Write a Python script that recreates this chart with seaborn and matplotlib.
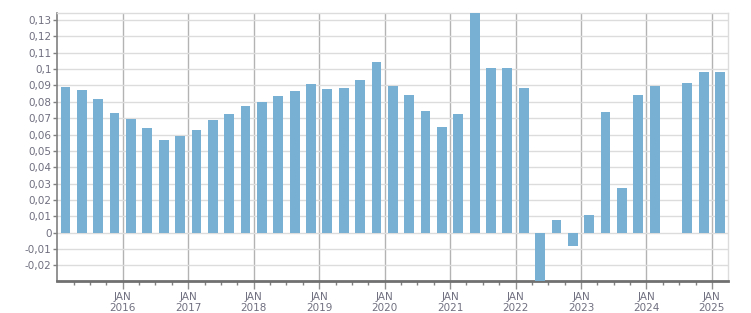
import numpy as np
import pandas as pd
import matplotlib
matplotlib.use("Agg")
import matplotlib.pyplot as plt
import seaborn as sns
from matplotlib.ticker import FixedLocator, FuncFormatter

quarters = [
    "2015Q1", "2015Q2", "2015Q3", "2015Q4",
    "2016Q1", "2016Q2", "2016Q3", "2016Q4",
    "2017Q1", "2017Q2", "2017Q3", "2017Q4",
    "2018Q1", "2018Q2", "2018Q3", "2018Q4",
    "2019Q1", "2019Q2", "2019Q3", "2019Q4",
    "2020Q1", "2020Q2", "2020Q3", "2020Q4",
    "2021Q1", "2021Q2", "2021Q3", "2021Q4",
    "2022Q1", "2022Q2", "2022Q3", "2022Q4",
    "2023Q1", "2023Q2", "2023Q3", "2023Q4",
    "2024Q1", "2024Q2", "2024Q3", "2024Q4",
    "2025Q1",
]
values = [
    0.0891, 0.0873, 0.0818, 0.0732,
    0.0696, 0.0641, 0.0568, 0.0592,
    0.0629, 0.0690, 0.0726, 0.0775,
    0.0800, 0.0836, 0.0867, 0.0909,
    0.0879, 0.0885, 0.0934, 0.1044,
    0.0897, 0.0842, 0.0745, 0.0647,
    0.0726, 0.1370, 0.1007, 0.1007,
    0.0885, -0.0310, 0.0079, -0.0079,
    0.0110, 0.0739, 0.0275, 0.0842,
    0.0897, np.nan, 0.0916, 0.0983,
    0.0983,
]
year_ticks = list(range(2016, 2026))
y_ticks = [round(-0.02 + 0.01 * i, 2) for i in range(16)]

per = pd.PeriodIndex(quarters, freq="Q")
xpos = per.year + (per.quarter - 1) / 4 + 0.125
df = pd.DataFrame({"x": xpos, "value": values}).dropna()

fig = plt.figure(figsize=(7.51, 3.13), dpi=100)
ax = fig.add_axes([57.3 / 751, 1 - 280.7 / 313, (728.3 - 57.3) / 751, (280.7 - 13) / 313])

sns.barplot(data=df, x="x", y="value", native_scale=True, color="#77b0d3",
            saturation=1, width=0.6, ax=ax, zorder=3, edgecolor="none")

ax.set_xlim(2015.0, 2025.25)
ax.set_ylim(-0.0293, 0.1343)
ax.set_xlabel("")
ax.set_ylabel("")

ax.yaxis.set_major_locator(FixedLocator(y_ticks))
ax.yaxis.set_major_formatter(FuncFormatter(
    lambda v, p: ("%g" % round(v, 2)).replace(".", ",")))
ax.xaxis.set_major_locator(FixedLocator(year_ticks))
ax.xaxis.set_major_formatter(FuncFormatter(lambda v, p: "JAN\n%d" % round(v)))
minor = [y + q / 4 for y in range(2015, 2026) for q in range(4)]
minor = [m for m in minor if 2015 < m < 2025.25 and abs(m - round(m)) > 1e-6]
ax.xaxis.set_minor_locator(FixedLocator(minor))

ax.grid(axis="y", color="#dcdcdc", linewidth=1, zorder=0)
ax.grid(axis="x", which="major", color="#b3b3b3", linewidth=1, zorder=1)
ax.set_axisbelow(True)

lab_color = "#6f6f80"
ax.tick_params(axis="y", length=3, width=1, color="#808080", labelsize=7.5,
               labelcolor=lab_color, pad=1)
ax.tick_params(axis="x", which="major", length=6, width=1, color="#909090",
               labelsize=7.5, labelcolor=lab_color, pad=2)
ax.tick_params(axis="x", which="minor", length=3, width=1, color="#808080")

for s in ["top", "right"]:
    ax.spines[s].set_color("#dcdcdc")
    ax.spines[s].set_linewidth(1)
ax.spines["left"].set_color("#808080")
ax.spines["left"].set_linewidth(1.2)
ax.spines["bottom"].set_color("#707070")
ax.spines["bottom"].set_linewidth(2)

fig.savefig("out.png", dpi=100)
